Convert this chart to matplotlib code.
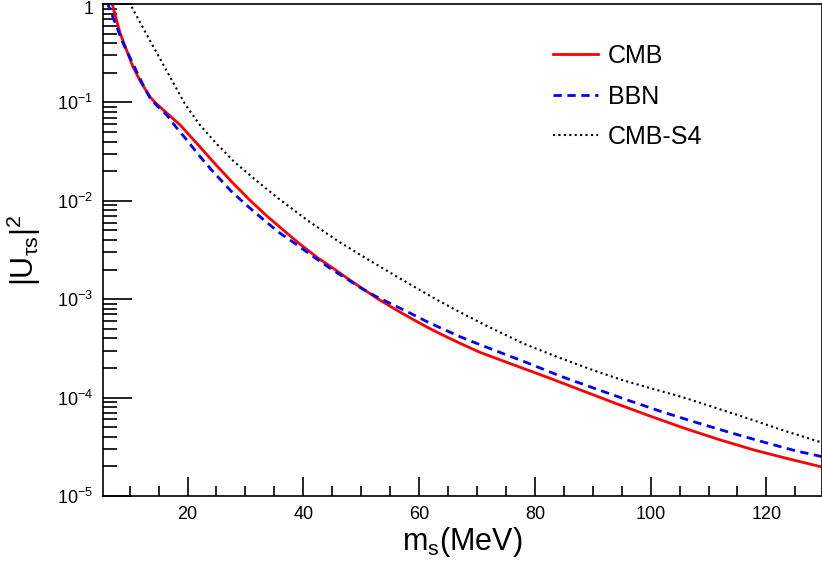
import matplotlib
matplotlib.use('Agg')
import matplotlib.pyplot as plt
import matplotlib.transforms as mtransforms
from matplotlib.ticker import MultipleLocator, LogLocator, FixedFormatter, FixedLocator
import numpy as np

plt.rcParams['font.family'] = ['Liberation Sans', 'DejaVu Sans']
plt.rcParams['mathtext.fontset'] = 'custom'
plt.rcParams['mathtext.rm'] = 'Liberation Sans'
plt.rcParams['mathtext.it'] = 'Liberation Sans'
plt.rcParams['mathtext.default'] = 'regular'

# values: m_s in MeV, log10 |U|^2
m_cmb = [6.9, 8.34, 10.58, 12.0, 13.52, 14.4, 15.24, 18.7, 22.15, 25.0, 27.85, 30.8, 33.72, 36.6,
         39.42, 42.5, 45.5, 47.54, 50.4, 53.24, 56.1, 58.94, 61.9, 64.81, 67.7, 70.51,
         76.0, 82.0, 88.0, 94.0, 100.0, 106.0, 112.0, 118.0, 124.0, 129.6]
lg_cmb = [0.02, -0.294, -0.64, -0.80, -0.944, -1.0, -1.046, -1.228, -1.452, -1.64, -1.82, -1.995, -2.155, -2.30,
          -2.44, -2.58, -2.70, -2.785, -2.90, -3.01, -3.11, -3.205, -3.30, -3.385, -3.465, -3.54,
          -3.66, -3.79, -3.925, -4.06, -4.19, -4.315, -4.43, -4.535, -4.625, -4.705]

m_bbn = [6.1, 8.85, 11.0, 12.3, 13.52, 14.8, 16.45, 18.0, 20.0, 22.0, 24.5, 27.5, 30.5, 33.3, 36.0,
         38.9, 41.67, 44.6, 47.54, 49.79, 52.5, 55.49, 58.4, 61.36, 64.2, 67.06, 70.0,
         72.76, 78.63, 84.33, 90.0, 96.0, 102.0, 108.0, 114.0, 120.0, 125.0, 129.6]
lg_bbn = [0.02, -0.396, -0.66, -0.82, -0.955, -1.04, -1.13, -1.25, -1.39, -1.54, -1.71, -1.90, -2.06, -2.20, -2.33,
          -2.447, -2.565, -2.685, -2.795, -2.88, -2.97, -3.056, -3.14, -3.228, -3.305, -3.381, -3.45,
          -3.513, -3.645, -3.78, -3.90, -4.025, -4.145, -4.255, -4.36, -4.46, -4.54, -4.60]

m_s4 = [9.9, 13.5, 16.5, 19.5, 22.0, 25.0, 28.0, 32.0, 36.0, 41.0, 46.0, 51.0, 57.0,
        62.6, 67.0, 72.0, 78.0, 84.0, 90.0, 95.0, 100.0, 105.5, 111.0, 117.0, 123.0, 129.6]
lg_s4 = [0.02, -0.37, -0.69, -1.01, -1.22, -1.42, -1.60, -1.80, -1.99, -2.21, -2.41, -2.59, -2.80,
         -2.99, -3.13, -3.28, -3.45, -3.59, -3.72, -3.82, -3.905, -3.995, -4.10, -4.215, -4.335, -4.457]

y_ticks = [1e-5, 1e-4, 1e-3, 1e-2, 1e-1, 1]
y_ticklabels = [r'$10^{-5}$', r'$10^{-4}$', r'$10^{-3}$', r'$10^{-2}$', r'$10^{-1}$', '1']

fig = plt.figure(figsize=(8.22, 5.67), dpi=100)
ax = fig.add_axes([103 / 822, 1 - 496 / 567, 1 - 103 / 822, 492 / 567])

ax.plot(m_cmb, 10 ** np.array(lg_cmb), color='red', lw=2.0, label='CMB')
ax.plot(m_bbn, 10 ** np.array(lg_bbn), color='blue', lw=2.0, ls=(0, (3, 2)), label='BBN')
ax.plot(m_s4, 10 ** np.array(lg_s4), color='black', lw=1.5, ls=(0, (1, 1.6)), label='CMB-S4')

ax.set_yscale('log')
ax.set_xlim(5.4, 129.6)
ax.set_ylim(1e-5, 1)

ax.xaxis.set_major_locator(MultipleLocator(20))
ax.xaxis.set_minor_locator(MultipleLocator(5))
ax.yaxis.set_major_locator(FixedLocator(y_ticks))
ax.yaxis.set_major_formatter(FixedFormatter(y_ticklabels))
ax.yaxis.set_minor_locator(LogLocator(base=10, subs=np.arange(2, 10), numticks=20))

ax.tick_params(axis='both', which='both', direction='in', width=1.2, labelsize=13)
ax.tick_params(axis='x', which='major', length=14, pad=7)
ax.tick_params(axis='x', which='minor', length=7)
ax.tick_params(axis='y', which='major', length=21, pad=7)
ax.tick_params(axis='y', which='minor', length=10)
for s in ax.spines.values():
    s.set_linewidth(1.2)

# nudge the "1" at the top down a little, as in the original
top_lbl = ax.yaxis.get_major_ticks()[-1].label1
top_lbl.set_transform(top_lbl.get_transform() +
                      mtransforms.ScaledTranslation(0, -4 / 100, fig.dpi_scale_trans))

ax.set_xlabel(r'm$_s$(MeV)', fontsize=22)
ax.set_ylabel(r'|U$_{\tau s}$|$^2$', fontsize=22)
ax.xaxis.set_label_coords(0.5, -0.059)
ax.yaxis.set_label_coords(-0.083, 0.5)

ax.legend(loc='upper left', bbox_to_anchor=(553 / 822, 1 - 44 / 567),
          bbox_transform=fig.transFigure, frameon=False, fontsize=18,
          handlelength=1.8, handletextpad=0.4, labelspacing=0.66,
          borderpad=0, borderaxespad=0)

fig.savefig('out.png', dpi=100)
